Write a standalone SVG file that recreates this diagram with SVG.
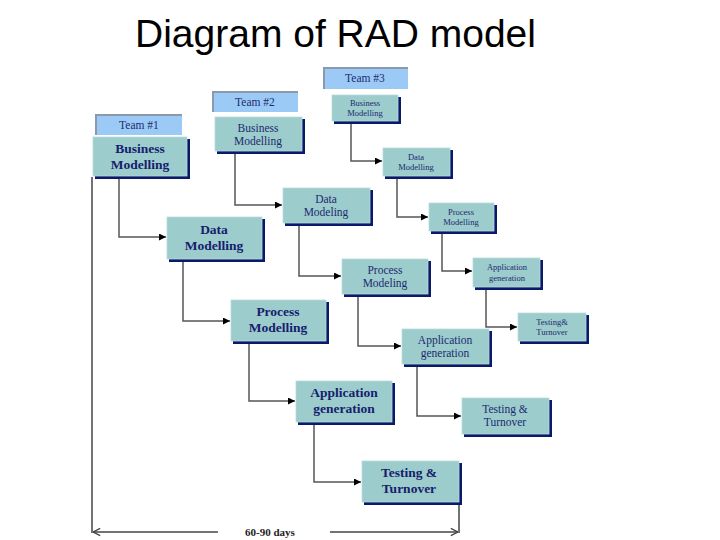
<svg xmlns="http://www.w3.org/2000/svg" width="720" height="540" viewBox="0 0 720 540">
<style>
.title{font-family:"Liberation Sans","Open Sans",sans-serif;font-size:39px;fill:#000}
.sh{fill:#0a1a6a}
.bx{fill:#9dcccc;stroke:#b8dcdc;stroke-width:0.8}
.tm{fill:#9ccaf6}
.tme{fill:none;stroke:#8a9aac;stroke-width:2}
.t1{font-family:"Liberation Serif",serif;font-weight:bold;font-size:13.5px;fill:#16206e;text-anchor:middle}
.t2{font-family:"Liberation Serif",serif;font-size:11.5px;fill:#1c2a70;text-anchor:middle}
.t3{font-family:"Liberation Serif",serif;font-size:8.5px;fill:#1c2a70;text-anchor:middle}
.tt{font-family:"Liberation Serif",serif;font-size:11.5px;fill:#1c2a70;text-anchor:middle}
.c{fill:none;stroke:#555;stroke-width:1.5}
.ax{fill:none;stroke:#444;stroke-width:1.5}
.days{font-family:"Liberation Serif",serif;font-weight:bold;font-size:11px;fill:#222;text-anchor:middle}
</style>
<defs>
<marker id="ah" viewBox="0 0 10 10" refX="10" refY="5" markerWidth="7" markerHeight="7" orient="auto" markerUnits="userSpaceOnUse">
<path d="M0,0 L10,5 L0,10 z" fill="#000"/>
</marker>
<marker id="oa" viewBox="0 0 10 10" refX="10" refY="5" markerWidth="9" markerHeight="9" orient="auto" markerUnits="userSpaceOnUse">
<path d="M2,1 L10,5 L2,9" fill="none" stroke="#444" stroke-width="1.5"/>
</marker>
</defs>
<rect width="720" height="540" fill="#fff"/>
<text class="title" x="135" y="47">Diagram of RAD model</text>

<g id="connectors">
<polyline class="c" points="119,177 119,237 166,237" marker-end="url(#ah)"/>
<polyline class="c" points="183,260 183,321 230,321" marker-end="url(#ah)"/>
<polyline class="c" points="249,342 249,401 295,401" marker-end="url(#ah)"/>
<polyline class="c" points="314,423 314,482 361,482" marker-end="url(#ah)"/>
<polyline class="c" points="235,152 235,205 282,205" marker-end="url(#ah)"/>
<polyline class="c" points="299,224 299,276 341,276" marker-end="url(#ah)"/>
<polyline class="c" points="358,295 358,346 401,346" marker-end="url(#ah)"/>
<polyline class="c" points="417,365 417,416 461,416" marker-end="url(#ah)"/>
<polyline class="c" points="351,122 351,161 382,161" marker-end="url(#ah)"/>
<polyline class="c" points="397,177 397,217 428,217" marker-end="url(#ah)"/>
<polyline class="c" points="442,232 442,271 472,271" marker-end="url(#ah)"/>
<polyline class="c" points="486,288 486,327 517,327" marker-end="url(#ah)"/>
<line class="ax" x1="92" y1="177" x2="92" y2="533"/>
<line class="ax" x1="459" y1="503" x2="459" y2="533"/>
<line class="ax" x1="218" y1="532" x2="93" y2="532" marker-end="url(#oa)"/>
<line class="ax" x1="330" y1="532" x2="458" y2="532" marker-end="url(#oa)"/>
</g>
<text class="days" x="270" y="536">60-90 days</text>

<g id="team1">
<rect class="tm" x="95" y="114" width="87" height="21"/>
<polyline class="tme" points="96,135 96,115 182,115"/>
<text class="tt" x="139" y="129">Team #1</text>
</g>
<g id="team2">
<rect class="tm" x="212" y="91" width="86" height="21"/>
<polyline class="tme" points="213,112 213,92 298,92"/>
<text class="tt" x="255" y="106">Team #2</text>
</g>
<g id="team3">
<rect class="tm" x="323" y="67" width="85" height="22"/>
<polyline class="tme" points="324,89 324,68 408,68"/>
<text class="tt" x="365" y="82">Team #3</text>
</g>

<g id="bm1"><rect class="sh" x="95" y="139" width="95" height="40"/><rect class="bx" x="93" y="137" width="94" height="39"/>
<text class="t1" x="140" y="153">Business</text><text class="t1" x="140" y="169">Modelling</text></g>
<g id="dm1"><rect class="sh" x="169" y="219" width="96" height="43"/><rect class="bx" x="167" y="217" width="95" height="42"/>
<text class="t1" x="214" y="234">Data</text><text class="t1" x="214" y="250">Modelling</text></g>
<g id="pm1"><rect class="sh" x="233" y="302" width="96" height="42"/><rect class="bx" x="231" y="300" width="95" height="41"/>
<text class="t1" x="278" y="316">Process</text><text class="t1" x="278" y="332">Modelling</text></g>
<g id="ag1"><rect class="sh" x="298" y="383" width="97" height="42"/><rect class="bx" x="296" y="381" width="96" height="41"/>
<text class="t1" x="344" y="397">Application</text><text class="t1" x="344" y="413">generation</text></g>
<g id="tt1"><rect class="sh" x="364" y="463" width="98" height="42"/><rect class="bx" x="362" y="461" width="97" height="41"/>
<text class="t1" x="409" y="477">Testing &amp;</text><text class="t1" x="409" y="493">Turnover</text></g>

<g id="bm2"><rect class="sh" x="217" y="119" width="88" height="35"/><rect class="bx" x="215" y="117" width="87" height="34"/>
<text class="t2" x="258" y="132">Business</text><text class="t2" x="258" y="145">Modelling</text></g>
<g id="dm2"><rect class="sh" x="285" y="190" width="88" height="36"/><rect class="bx" x="283" y="188" width="87" height="35"/>
<text class="t2" x="326" y="203">Data</text><text class="t2" x="326" y="216">Modeling</text></g>
<g id="pm2"><rect class="sh" x="344" y="261" width="87" height="36"/><rect class="bx" x="342" y="259" width="86" height="35"/>
<text class="t2" x="385" y="274">Process</text><text class="t2" x="385" y="287">Modeling</text></g>
<g id="ag2"><rect class="sh" x="404" y="331" width="88" height="36"/><rect class="bx" x="402" y="329" width="87" height="35"/>
<text class="t2" x="445" y="344">Application</text><text class="t2" x="445" y="357">generation</text></g>
<g id="tt2"><rect class="sh" x="464" y="400" width="88" height="37"/><rect class="bx" x="462" y="398" width="87" height="36"/>
<text class="t2" x="505" y="413">Testing &amp;</text><text class="t2" x="505" y="426">Turnover</text></g>

<g id="bm3"><rect class="sh" x="334" y="97" width="67" height="27"/><rect class="bx" x="332" y="95" width="66" height="26"/>
<text class="t3" x="365" y="106">Business</text><text class="t3" x="365" y="116">Modelling</text></g>
<g id="dm3"><rect class="sh" x="385" y="150" width="68" height="29"/><rect class="bx" x="383" y="148" width="67" height="28"/>
<text class="t3" x="416" y="160">Data</text><text class="t3" x="416" y="170">Modelling</text></g>
<g id="pm3"><rect class="sh" x="431" y="205" width="66" height="29"/><rect class="bx" x="429" y="203" width="65" height="28"/>
<text class="t3" x="461" y="215">Process</text><text class="t3" x="461" y="225">Modelling</text></g>
<g id="ag3"><rect class="sh" x="475" y="260" width="68" height="30"/><rect class="bx" x="473" y="258" width="67" height="29"/>
<text class="t3" x="507" y="270">Application</text><text class="t3" x="507" y="281">generation</text></g>
<g id="tt3"><rect class="sh" x="520" y="315" width="69" height="29"/><rect class="bx" x="518" y="313" width="68" height="28"/>
<text class="t3" x="552" y="325">Testing&amp;</text><text class="t3" x="552" y="335">Turnover</text></g>
</svg>
